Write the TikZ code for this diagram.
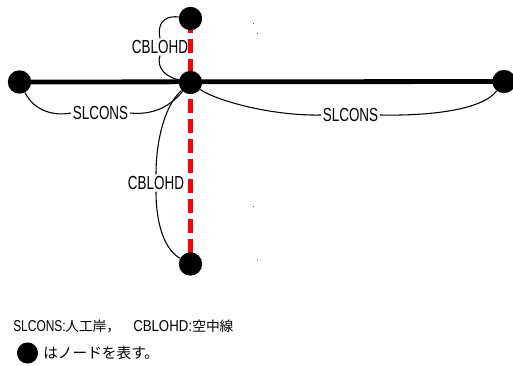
\documentclass[tikz,border=0pt]{standalone}
\usepackage{graphicx}
\usepackage{fontspec}
\setmainfont{Liberation Sans}
\newfontfamily\cjk{Noto Sans CJK JP}
\pgfdeclarelayer{bg}
\pgfsetlayers{bg,main}
\tikzset{
  dot/.style={circle, fill=black, draw=none, minimum size=17.5pt, inner sep=0pt},
  mainline/.style={line width=3.6pt, black},
  ohdline/.style={line width=3.9pt, red, dash pattern=on 10.5pt off 4.5pt},
  conn/.style={line width=0.8pt, black},
  lbl/.style={inner sep=1.2pt, font=\fontsize{14.2}{16}\selectfont},
  foot/.style={inner sep=0pt, anchor=base west},
  speck/.style={fill=black!70, draw=none}
}
\newcommand{\cond}[1]{\scalebox{0.71}[1]{#1}}
\begin{document}
\begin{tikzpicture}[x=0.75pt, y=-0.75pt]
\useasboundingbox (0,0) rectangle (513,365);
% nodes
\node[dot] (l) at (19.5,82) {};
\node[dot] (c) at (190.5,82.5) {};
\node[dot] (r) at (504,81.5) {};
\node[dot] (t) at (190.5,18.5) {};
\node[dot] (b) at (190.5,264) {};
% labels
\node[lbl] (lt) at (160,47) {\cond{CBLOHD}};
\node[lbl] (lb) at (156,183) {\cond{CBLOHD}};
\node[lbl] (ls) at (100.5,113) {\cond{SLCONS}};
\node[lbl] (rs) at (350.5,115) {\cond{SLCONS}};
% main lines
\begin{pgfonlayer}{bg}
\draw[mainline] (l.center) -- (r.center);
\draw[ohdline] (t.center) -- (b.center);
\end{pgfonlayer}
% connectors
\draw[conn] (t) .. controls (163,15) and (157,25) .. (lt.north);
\draw[conn] (lt.south) .. controls (156,68) and (166,77) .. (c);
\draw[conn] (l) .. controls (35,112) and (55,116) .. (ls.west);
\draw[conn] (ls.east) .. controls (160,116) and (175,100) .. (c);
\draw[conn] (c) .. controls (215,100) and (270,116) .. (rs.west);
\draw[conn] (rs.east) .. controls (430,116) and (482,110) .. (r);
\draw[conn] (c) .. controls (165,105) and (156,140) .. (lb.north);
\draw[conn] (lb.south) .. controls (156,225) and (165,250) .. (b);
% specks
\fill[speck] (253,23) rectangle ++(1,1);
\fill[speck] (257,33) rectangle ++(1,1);
\fill[speck] (253,206) rectangle ++(1,1);
\fill[speck] (257,259) rectangle ++(1,1);
% footnote
\node[foot] (f1) at (13,331) {\fontsize{11.8}{13}\selectfont\scalebox{0.76}[1]{SLCONS:}};
\node[foot] (f2) at (65,331) {\fontsize{10.3}{12}\selectfont\cjk 人工岸，};
\node[foot] (f3) at (133,331) {\fontsize{11.8}{13}\selectfont\scalebox{0.84}[1]{CBLOHD:}};
\node[foot] (f4) at (192,331) {\fontsize{10.3}{12}\selectfont\cjk 空中線};
\node[dot, minimum size=15.8pt] (leg) at (27.5,353) {};
\node[foot] (f5) at (43,358.5) {\fontsize{11}{13}\selectfont\cjk はノードを表す。};
\end{tikzpicture}
\end{document}
